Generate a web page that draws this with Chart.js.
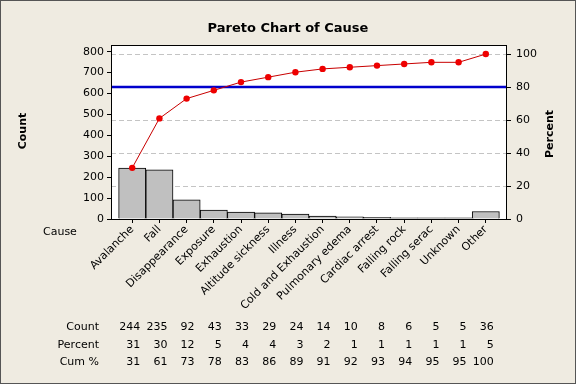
<!DOCTYPE html>
<html>
<head>
<meta charset="utf-8">
<script src="https://cdn.jsdelivr.net/npm/chart.js@4"></script>
<style>
  html, body { margin: 0; padding: 0; background: #efebe1; }
  canvas { display: block; }
</style>
</head>
<body>
<canvas id="pareto" width="576" height="384"></canvas>
<script>
  // データ
  const causes = ["Avalanche", "Fall", "Disappearance", "Exposure", "Exhaustion", "Altitude sickness", "Illness", "Cold and Exhaustion", "Pulmonary edema", "Cardiac arrest", "Falling rock", "Falling serac", "Unknown", "Other"];
  const counts = [244, 235, 92, 43, 33, 29, 24, 14, 10, 8, 6, 5, 5, 36];
  const percents = [31, 30, 12, 5, 4, 4, 3, 2, 1, 1, 1, 1, 1, 5];
  const cumPercents = [31, 61, 73, 78, 83, 86, 89, 91, 92, 93, 94, 95, 95, 100];
  const countTicks = [0, 100, 200, 300, 400, 500, 600, 700, 800];
  const percentTicks = [0, 20, 40, 60, 80, 100];
  const refPercent = 80;

  const FONT = "DejaVu Sans";
  Chart.defaults.font.family = FONT;
  Chart.defaults.font.size = 11;
  Chart.defaults.color = "#000";

  // 背景・枠・タイトル・下の表などを描くプラグイン
  const paretoDecor = {
    id: "paretoDecor",
    beforeDraw(chart) {
      const { ctx, chartArea: a } = chart;
      ctx.save();
      ctx.fillStyle = "#efebe1";
      ctx.fillRect(0, 0, chart.width, chart.height);
      ctx.fillStyle = "#fff";
      ctx.fillRect(a.left, a.top, a.right - a.left, a.bottom - a.top);
      ctx.restore();
    },
    beforeDatasetsDraw(chart) {
      const { ctx, chartArea: a } = chart;
      const y = chart.scales.y2.getPixelForValue(refPercent);
      ctx.save();
      ctx.strokeStyle = "#0000cc";
      ctx.lineWidth = 2.5;
      ctx.beginPath();
      ctx.moveTo(a.left, y);
      ctx.lineTo(a.right, y);
      ctx.stroke();
      ctx.restore();
    },
    afterDraw(chart) {
      const { ctx, chartArea: a } = chart;
      const xScale = chart.scales.x;
      ctx.save();

      // プロット枠
      ctx.strokeStyle = "#000";
      ctx.lineWidth = 1;
      ctx.strokeRect(a.left + 0.5, a.top + 0.5, a.right - a.left - 1, a.bottom - a.top);

      // 外枠
      ctx.strokeStyle = "#555";
      ctx.strokeRect(0.5, 0.5, chart.width - 1, chart.height - 1);

      ctx.fillStyle = "#000";
      ctx.textBaseline = "middle";

      // タイトル
      ctx.font = `bold 13px "${FONT}"`;
      ctx.textAlign = "center";
      ctx.fillText("Pareto Chart of Cause", 288, 29);

      // 軸タイトル
      ctx.font = `bold 11px "${FONT}"`;
      ctx.save();
      ctx.translate(23, 131);
      ctx.rotate(-Math.PI / 2);
      ctx.fillText("Count", 0, 0);
      ctx.restore();
      ctx.save();
      ctx.translate(550, 134);
      ctx.rotate(-Math.PI / 2);
      ctx.fillText("Percent", 0, 0);
      ctx.restore();

      ctx.font = `11px "${FONT}"`;
      ctx.textAlign = "left";
      ctx.fillText("Cause", 43, 232);

      // 下の表
      const rows = [
        ["Count", counts, 327.5],
        ["Percent", percents, 345],
        ["Cum %", cumPercents, 362.5],
      ];
      rows.forEach(([label, values, y]) => {
        ctx.textAlign = "right";
        ctx.fillText(label, 99, y);
        values.forEach((v, i) => {
          ctx.fillText(String(v), xScale.getPixelForValue(i) + 8, y);
        });
      });
      ctx.restore();
    },
  };

  const ctx = document.getElementById("pareto").getContext("2d");

  new Chart(ctx, {
    type: "bar",
    data: {
      datasets: [
        {
          type: "line",
          label: "Cum %",
          data: cumPercents.map((v, i) => ({ x: i, y: v })),
          yAxisID: "y2",
          borderColor: "#c80000",
          borderWidth: 1,
          pointBackgroundColor: "#ee0000",
          pointBorderColor: "#ee0000",
          pointRadius: 3.2,
          pointBorderWidth: 0,
          tension: 0,
          order: 1,
        },
        {
          label: "Count",
          data: counts.map((v, i) => ({ x: i, y: v })),
          yAxisID: "y",
          backgroundColor: "#c0c0c0",
          borderColor: "#000",
          borderWidth: 1,
          borderSkipped: "bottom",
          barPercentage: 1,
          categoryPercentage: 1,
          order: 2,
        },
      ],
    },
    options: {
      responsive: false,
      animation: false,
      layout: { padding: { top: 45, left: 0, right: 0, bottom: 0 } },
      plugins: {
        legend: { display: false },
        title: { display: false },
        tooltip: { enabled: false },
      },
      scales: {
        x: {
          type: "linear",
          offset: false,
          min: -0.78,
          max: 13.78,
          afterBuildTicks: (s) => {
            s.ticks = causes.map((c, i) => ({ value: i }));
          },
          afterFit: (s) => {
            s.height = 165;
          },
          ticks: {
            autoSkip: false,
            minRotation: 45,
            maxRotation: 45,
            padding: 0,
            callback: (v) => causes[v],
          },
          grid: { offset: false, drawOnChartArea: false, tickLength: 4, tickColor: "#000" },
          border: { display: false },
        },
        y: {
          position: "left",
          min: 0,
          max: 832,
          afterBuildTicks: (s) => {
            s.ticks = countTicks.map((v) => ({ value: v }));
          },
          afterFit: (s) => {
            s.width = 111;
          },
          ticks: { padding: 3 },
          grid: { drawOnChartArea: false, tickLength: 4, tickColor: "#000" },
          border: { display: false },
        },
        y2: {
          position: "right",
          min: 0,
          max: 105.5,
          afterBuildTicks: (s) => {
            s.ticks = percentTicks.map((v) => ({ value: v }));
          },
          afterFit: (s) => {
            s.width = 69;
          },
          ticks: { padding: 5 },
          grid: {
            drawOnChartArea: true,
            color: (c) => (c.tick && c.tick.value > 0 ? "#c4c4c4" : "rgba(0,0,0,0)"),
            tickLength: 4,
            tickColor: "#000",
          },
          border: { display: false, dash: [5, 3] },
        },
      },
    },
    plugins: [paretoDecor],
  });
</script>
</body>
</html>
